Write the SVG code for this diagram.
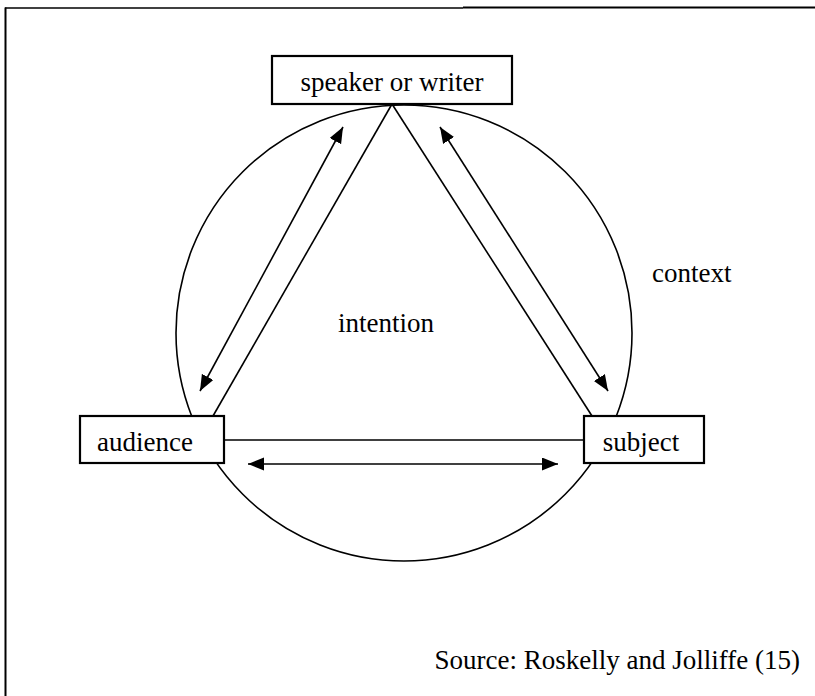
<svg xmlns="http://www.w3.org/2000/svg" width="815" height="696" viewBox="0 0 815 696">
<defs>
<marker id="ah" markerUnits="userSpaceOnUse" markerWidth="18" markerHeight="14" refX="16" refY="6.5" orient="auto-start-reverse">
<path d="M0,0 L16,6.5 L0,13 z" fill="#000"/>
</marker>
<style>
.ln{stroke:#000;stroke-width:1.6;fill:none}
.ar{stroke:#000;stroke-width:1.6;fill:none;marker-start:url(#ah);marker-end:url(#ah)}
.box{fill:#fff;stroke:#000;stroke-width:2.2}
.t{font-family:'Liberation Serif','Times New Roman',serif;font-size:27px;fill:#000}
</style>
</defs>
<rect width="815" height="696" fill="#fff"/>
<g id="frame">
<line x1="5" y1="8" x2="463" y2="8" stroke="#000" stroke-width="1.5"/>
<line x1="463" y1="7.5" x2="815" y2="7.5" stroke="#000" stroke-width="2.2"/>
<line x1="5.5" y1="7.5" x2="5.5" y2="696" stroke="#000" stroke-width="2"/>
</g>
<g id="context">
<circle cx="404" cy="333" r="228" class="ln"/>
<text class="t" x="652" y="282">context</text>
</g>
<g id="connectors">
<line class="ln" x1="392" y1="104" x2="213" y2="416"/>
<line class="ln" x1="392" y1="104" x2="592" y2="416"/>
<line class="ln" x1="224" y1="440" x2="584" y2="440"/>
<line class="ar" x1="343" y1="127" x2="200" y2="391"/>
<line class="ar" x1="440" y1="127" x2="608" y2="391"/>
<line class="ar" x1="248" y1="464" x2="558" y2="464"/>
</g>
<g id="intention">
<text class="t" x="386" y="332" text-anchor="middle">intention</text>
</g>
<g id="speaker">
<rect class="box" x="272" y="56" width="240" height="48"/>
<text class="t" x="392" y="91" text-anchor="middle">speaker or writer</text>
</g>
<g id="audience">
<rect class="box" x="80" y="416" width="144" height="47"/>
<text class="t" x="145" y="451" text-anchor="middle">audience</text>
</g>
<g id="subject">
<rect class="box" x="584" y="416" width="120" height="47"/>
<text class="t" x="641" y="451" text-anchor="middle">subject</text>
</g>
<g id="source">
<text class="t" x="800" y="669" text-anchor="end">Source: Roskelly and Jolliffe (15)</text>
</g>
</svg>
